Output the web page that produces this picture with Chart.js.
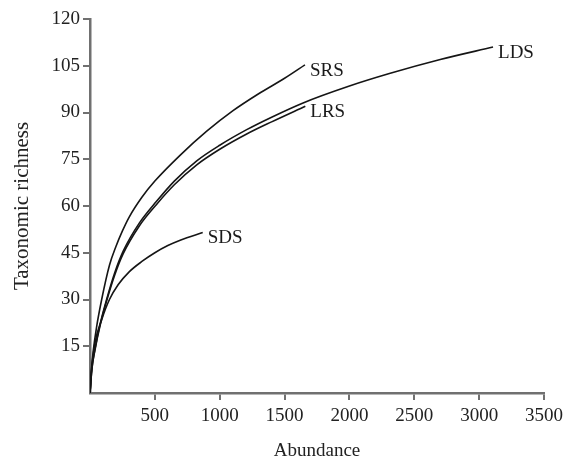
<!DOCTYPE html>
<html>
<head>
<meta charset="utf-8">
<script src="https://cdn.jsdelivr.net/npm/chart.js@4"></script>
<style>
  html, body { margin: 0; padding: 0; background: #fff; overflow: hidden; }
  #wrap { width: 563px; height: 459px; position: relative; }
</style>
</head>
<body>
<div id="wrap"><canvas id="chart"></canvas></div>
<script>
// Rarefaction curves
const srsX = [0, 10, 25, 50, 90, 150, 200, 250, 300, 400, 500, 700, 900, 1100, 1300, 1500, 1657];
const srsY = [0, 7, 13.5, 21, 30, 41, 47, 52, 56.3, 62.8, 68, 76.5, 84, 90.5, 96, 101, 105.3];

const ldsX = [0, 15, 38, 80, 128, 190, 256, 380, 513, 650, 823, 1000, 1208, 1400, 1638, 2000, 2308, 2700, 3107];
const ldsY = [0, 8, 14, 22.5, 30, 38.5, 45.5, 54.5, 61.5, 68, 74.5, 79.5, 84.5, 88.5, 93, 98.5, 102.5, 107, 111];

const lrsX = [0, 15, 38, 80, 128, 190, 256, 380, 513, 650, 823, 1000, 1208, 1400, 1660];
const lrsY = [0, 7.8, 13.7, 22, 29.5, 37.8, 44.7, 53.6, 60.5, 66.8, 73.2, 78.2, 83.1, 87, 92];

const sdsX = [0, 10, 38, 90, 150, 218, 300, 400, 500, 600, 700, 869];
const sdsY = [0, 6.5, 16, 23.5, 30, 34.8, 38.8, 42.2, 45, 47.3, 49.1, 51.5];

const seriesNames = ['SRS', 'LDS', 'LRS', 'SDS'];
const xTicks = [500, 1000, 1500, 2000, 2500, 3000, 3500];
const yTicks = [15, 30, 45, 60, 75, 90, 105, 120];

const FONT = "'Liberation Serif', 'Times New Roman', serif";
const AXIS = '#707070';

function toPoints(xs, ys) {
    return xs.map((x, i) => ({ x: x, y: ys[i] }));
}

const seriesData = [toPoints(srsX, srsY), toPoints(ldsX, ldsY), toPoints(lrsX, lrsY), toPoints(sdsX, sdsY)];

// Write each series name just past the end of its curve
const endLabels = {
    id: 'endLabels',
    afterDatasetsDraw(chart) {
        const ctx = chart.ctx;
        const xs = chart.scales.x, ys = chart.scales.y;
        ctx.save();
        ctx.font = '19px ' + FONT;
        ctx.fillStyle = '#1a1a1a';
        ctx.textAlign = 'left';
        ctx.textBaseline = 'middle';
        chart.data.datasets.forEach(ds => {
            const last = ds.data[ds.data.length - 1];
            ctx.fillText(ds.label, xs.getPixelForValue(last.x) + 5, ys.getPixelForValue(last.y) + 6);
        });
        ctx.restore();
    }
};

new Chart(document.getElementById('chart'), {
    type: 'scatter',
    data: {
        datasets: seriesNames.map((name, i) => ({
            label: name,
            data: seriesData[i],
            showLine: true,
            borderColor: '#151515',
            borderWidth: 1.6,
            pointRadius: 0,
            cubicInterpolationMode: 'monotone',
            fill: false
        }))
    },
    options: {
        responsive: true,
        maintainAspectRatio: false,
        animation: false,
        layout: { padding: { left: 0, top: 19, right: 19, bottom: 0 } },
        plugins: { legend: { display: false }, tooltip: { enabled: false } },
        scales: {
            x: {
                type: 'linear',
                min: 0,
                max: 3500,
                afterBuildTicks: s => { s.ticks = [0].concat(xTicks).map(v => ({ value: v })); },
                // let the last label run to the page edge like the original
                afterFit: s => { s.height = 66; s.paddingRight = 0; s.paddingLeft = 0; },
                ticks: {
                    callback: v => v === 0 ? '' : v,
                    font: { family: FONT, size: 19 },
                    color: '#222',
                    padding: 5,
                    maxRotation: 0
                },
                grid: {
                    drawOnChartArea: false,
                    tickLength: 7,
                    lineWidth: 2,
                    color: c => c.tick && c.tick.value === 0 ? 'rgba(0,0,0,0)' : AXIS
                },
                border: { color: AXIS, width: 2.5 },
                title: {
                    display: true,
                    text: 'Abundance',
                    font: { family: FONT, size: 19, lineHeight: 0.85 },
                    color: '#222',
                    padding: { top: 0, bottom: 0 }
                }
            },
            y: {
                type: 'linear',
                min: 0,
                max: 120,
                afterBuildTicks: s => { s.ticks = [0].concat(yTicks).map(v => ({ value: v })); },
                afterFit: s => { s.width = 90; s.paddingTop = 0; },
                ticks: {
                    callback: v => v === 0 ? '' : v,
                    font: { family: FONT, size: 19 },
                    color: '#222',
                    padding: 3
                },
                grid: {
                    drawOnChartArea: false,
                    tickLength: 7,
                    lineWidth: 2,
                    color: c => c.tick && c.tick.value === 0 ? 'rgba(0,0,0,0)' : AXIS
                },
                border: { color: AXIS, width: 2.5 },
                title: {
                    display: true,
                    text: 'Taxonomic richness',
                    font: { family: FONT, size: 21 },
                    color: '#222',
                    padding: { top: 10, bottom: 0 }
                }
            }
        }
    },
    plugins: [endLabels]
});
</script>
</body>
</html>
